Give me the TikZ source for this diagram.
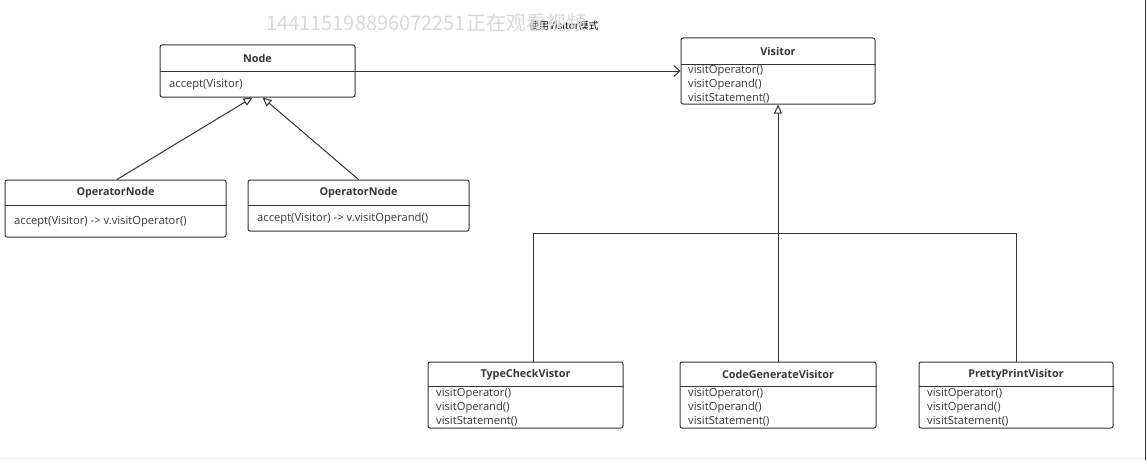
\documentclass[tikz,border=0pt]{standalone}
\usepackage{fontspec}
\setmainfont{Open Sans}
\newfontfamily\cjk{Noto Sans CJK SC}
\usetikzlibrary{arrows.meta}
\definecolor{ln}{HTML}{333333}
\definecolor{tx}{HTML}{383838}
\begin{document}
\begin{tikzpicture}[x=1pt,y=-1pt,
  cls/.style={draw=ln, line width=1pt, rounded corners=2pt, inner sep=0pt, fill=white},
  hdr/.style={font=\bfseries\fontsize{10.8}{12}\selectfont, text=tx, inner sep=0pt},
  mth/.style={font=\fontsize{11.2}{12}\selectfont, text=tx, anchor=west, inner sep=0pt},
  sep/.style={draw=ln, line width=0.8pt},
  link/.style={draw=ln, line width=1pt},
  gen/.style={link, -{Triangle[open, length=9pt, width=8pt]}},
  assoc/.style={link, -{Straight Barb[length=6pt, width=11pt]}}]
\useasboundingbox (0,0) rectangle (1147,460);
\fill[white] (0,0) rectangle (1147,460);
\draw[gray!15] (0,458.5) -- (1145,458.5);
\draw[ln, line width=1.2pt] (1145.5,0) -- (1145.5,460);

% title and watermark
\node[anchor=west, font=\cjk\fontsize{10}{11}\selectfont, text=black, inner sep=0pt] (title) at (529,26) {使用Visitor模式};
\node[anchor=west, font=\cjk\fontsize{20}{21}\selectfont, text=gray!30, inner sep=0pt] (wm) at (266,23) {144115198896072251正在观看视频};

% Node
\node[cls, minimum width=195pt, minimum height=52pt] (nodecls) at (257.5,71) {};
\draw[sep] (nodecls.west |- 0,71) -- (nodecls.east |- 0,71);
\node[hdr] (nodeT) at (257.5,58.5) {Node};
\node[mth] (nodeM) at (169,84.5) {accept(Visitor)};

% Visitor
\node[cls, minimum width=194pt, minimum height=66pt] (visitor) at (778,71) {};
\draw[sep] (visitor.west |- 0,64) -- (visitor.east |- 0,64);
\node[hdr] (visT) at (778,51.5) {Visitor};
\node[mth] (visM1) at (688,71) {visitOperator()};
\node[mth] (visM2) at (688,84.5) {visitOperand()};
\node[mth] (visM3) at (688,98) {visitStatement()};

% OperatorNode 1
\node[cls, minimum width=221pt, minimum height=57pt] (op1) at (115.5,208.5) {};
\draw[sep] (op1.west |- 0,205) -- (op1.east |- 0,205);
\node[hdr] (op1T) at (115.5,193) {OperatorNode};
\node[mth] (op1M) at (14,222) {accept(Visitor) -> v.visitOperator()};

% OperatorNode 2
\node[cls, minimum width=221pt, minimum height=51pt] (op2) at (358.5,205.5) {};
\draw[sep] (op2.west |- 0,205) -- (op2.east |- 0,205);
\node[hdr] (op2T) at (358.5,193) {OperatorNode};
\node[mth] (op2M) at (257,218.5) {accept(Visitor) -> v.visitOperand()};

% TypeCheckVistor
\node[cls, minimum width=195pt, minimum height=66pt] (tc) at (525.5,395) {};
\draw[sep] (tc.west |- 0,386) -- (tc.east |- 0,386);
\node[hdr] (tcT) at (525.5,374.5) {TypeCheckVistor};
\node[mth] (tcM1) at (436,394) {visitOperator()};
\node[mth] (tcM2) at (436,407.5) {visitOperand()};
\node[mth] (tcM3) at (436,421) {visitStatement()};

% CodeGenerateVisitor
\node[cls, minimum width=196pt, minimum height=66pt] (cg) at (778,395) {};
\draw[sep] (cg.west |- 0,386) -- (cg.east |- 0,386);
\node[hdr] (cgT) at (778,374.5) {CodeGenerateVisitor};
\node[mth] (cgM1) at (688,394) {visitOperator()};
\node[mth] (cgM2) at (688,407.5) {visitOperand()};
\node[mth] (cgM3) at (688,421) {visitStatement()};

% PrettyPrintVisitor
\node[cls, minimum width=194pt, minimum height=66pt] (pp) at (1016,395) {};
\draw[sep] (pp.west |- 0,386) -- (pp.east |- 0,386);
\node[hdr] (ppT) at (1016,374.5) {PrettyPrintVisitor};
\node[mth] (ppM1) at (927,394) {visitOperator()};
\node[mth] (ppM2) at (927,407.5) {visitOperand()};
\node[mth] (ppM3) at (927,421) {visitStatement()};

% connectors
\draw[assoc] (nodecls.east) -- (visitor.west);
\draw[gen] ([xshift=1.5pt]op1.north) -- ([xshift=-5pt]nodecls.south);
\draw[gen] (op2.north) -- ([xshift=5pt]nodecls.south);
\coordinate (bus) at (778,233.5);
\draw[gen] (cg.north) -- (visitor.south);
\draw[link] ([xshift=7.5pt]tc.north) |- (bus) -| (pp.north);
\end{tikzpicture}
\end{document}
